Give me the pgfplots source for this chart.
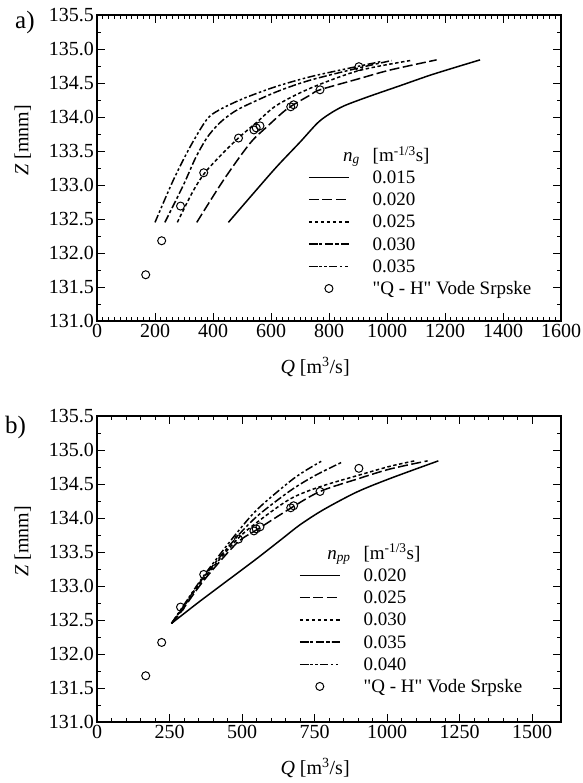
\documentclass[border=0pt]{standalone}
\usepackage{fontspec}
\setmainfont{Liberation Serif}
\newfontfamily\plainserif{Liberation Serif}
\usepackage{pgfplots}
\pgfplotsset{compat=1.18}

\newcommand{\fs}{\fontsize{20}{24}\selectfont}
\newcommand{\lfs}{\fontsize{19}{23}\selectfont}

\tikzset{
	ldash/.style={dash pattern=on 10pt off 3.5pt},
	ldot/.style={dash pattern=on 3.5pt off 2.5pt},
	ldashdot/.style={dash pattern=on 8pt off 2.5pt on 3pt off 2.5pt},
	ldashdotdot/.style={dash pattern=on 8pt off 2.5pt on 2.5pt off 2.5pt on 2.5pt off 2.5pt},
}
\pgfplotsset{
	/pgf/number format/assume math mode=true,
	panel/.style={
		scale only axis, width=464pt, height=306pt,
		anchor=south west,
		xmin=0, xmax=1600, ymin=131, ymax=135.5,
		ytick distance=0.5, minor y tick num=1,
		tick align=inside,
		major tick length=8pt, minor tick length=4pt,
		axis line style={line width=1.2pt},
		every tick/.style={black, line width=0.8pt},
		yticklabel style={font=\fs, inner xsep=3pt, /pgf/number format/.cd, fixed, fixed zerofill, precision=1},
		xticklabel style={font=\fs, /pgf/number format/.cd, 1000 sep={}},
		xlabel={\textit{Q} [m\textsuperscript{3}/s]},
		ylabel={\textit{Z} [mnm]},
		xlabel style={font=\fs, at={(axis description cs:0.47,-0.15)}, anchor=center},
		ylabel style={font=\fs, at={(axis description cs:-0.16,0.59)}, anchor=center},
		legend cell align=left,
		legend image code/.code={\draw[mark repeat=2,mark phase=2,##1] plot coordinates {(0pt,0pt) (20pt,0pt) (40pt,0pt)};},
		legend style={anchor=north west, draw=none, fill=none, inner sep=0pt,
			row sep=8.2pt, column sep=13pt,
			nodes={inner sep=0pt, text height=13pt, text depth=1pt, font=\lfs}},
	},
	crv/.style={black, line width=1.5pt, smooth, tension=0.5},
	obs/.style={black, only marks, mark=o, mark size=4pt, mark options={solid, line width=1pt}},
}

\begin{document}
\begin{tikzpicture}
\path[use as bounding box] (0,0) rectangle (582pt,783pt);

\node[anchor=west, inner sep=0pt, font=\fontsize{25}{30}\selectfont] at (15pt,760pt) {a)};
\node[anchor=west, inner sep=0pt, font=\fontsize{25}{30}\selectfont] at (5pt,356pt) {b)};

% panel a
\begin{axis}[panel, at={(97pt,462pt)},
	xtick={0,200,...,1600}, minor x tick num=9,
	legend style={at={(0.4547,0.565)}}]
\addlegendimage{legend image code/.code={\node[anchor=east] at (51pt,0pt) {\textit{n}\textsubscript{\textit{g}}};}}
\addlegendentry{[m\textsuperscript{-1/3}s]}
\addplot[crv] coordinates {
(453,132.45) (540,132.88) (620,133.27) (700,133.63) (760,133.91) (800,134.04)
(850,134.16) (930,134.29) (1045,134.46) (1160,134.63) (1321,134.84)};
\addlegendentry{0.015}
\addplot[crv, ldash] coordinates {
(344,132.45) (436,133.07) (527,133.61) (587,133.86) (656,134.12) (734,134.32)
(769,134.40) (901,134.56) (1010,134.69) (1171,134.84)};
\addlegendentry{0.020}
\addplot[crv, ldot] coordinates {
(277,132.45) (330,132.90) (372,133.18) (430,133.45) (490,133.70) (553,133.93)
(619,134.17) (734,134.42) (901,134.68) (1080,134.83)};
\addlegendentry{0.025}
\addplot[crv, ldashdot] coordinates {
(234,132.45) (298,133.00) (340,133.40) (380,133.70) (420,133.90) (460,134.04)
(504,134.15) (619,134.37) (734,134.54) (901,134.72) (1016,134.83)};
\addlegendentry{0.030}
\addplot[crv, ldashdotdot] coordinates {
(200,132.45) (263,133.07) (321,133.56) (378,133.96) (420,134.10) (504,134.27)
(619,134.45) (734,134.59) (850,134.70) (985,134.82)};
\addlegendentry{0.035}
\addplot[obs] coordinates {
(168,131.68) (223,132.18) (288,132.69) (368,133.18) (488,133.69) (541,133.81)
(549,133.84) (562,133.87) (668,134.15) (678,134.18) (769,134.40) (903,134.74)};
\addlegendentry{{\plainserif "Q - H" Vode Srpske}}
\end{axis}

% panel b
\begin{axis}[panel, at={(97pt,61pt)},
	xtick={0,250,...,1500}, minor x tick num=4,
	legend style={at={(0.435,0.575)}}]
\addlegendimage{legend image code/.code={\node[anchor=east] at (51pt,0pt) {\textit{n}\textsubscript{\textit{pp}}};}}
\addlegendentry{[m\textsuperscript{-1/3}s]}
\addplot[crv] coordinates {
(257,132.45) (350,132.76) (450,133.08) (550,133.40) (640,133.70) (700,133.90)
(780,134.12) (895,134.38) (1010,134.58) (1177,134.84)};
\addlegendentry{0.020}
\addplot[crv, ldash] coordinates {
(257,132.45) (290,132.62) (368,133.08) (482,133.63) (556,133.84) (670,134.15)
(769,134.39) (895,134.57) (1010,134.72) (1140,134.84)};
\addlegendentry{0.025}
\addplot[crv, ldot] coordinates {
(257,132.45) (290,132.64) (368,133.11) (482,133.68) (556,133.95) (666,134.28)
(769,134.46) (903,134.63) (1010,134.76) (1095,134.84)};
\addlegendentry{0.030}
\addplot[crv, ldashdot] coordinates {
(257,132.45) (290,132.65) (368,133.13) (482,133.72) (556,134.04) (666,134.40)
(750,134.62) (849,134.83)};
\addlegendentry{0.035}
\addplot[crv, ldashdotdot] coordinates {
(257,132.45) (290,132.66) (368,133.15) (482,133.78) (556,134.14) (666,134.54)
(720,134.70) (780,134.85)};
\addlegendentry{0.040}
\addplot[obs] coordinates {
(168,131.68) (223,132.17) (288,132.69) (368,133.17) (488,133.69) (541,133.81)
(549,133.84) (562,133.87) (668,134.15) (678,134.18) (769,134.39) (903,134.73)};
\addlegendentry{{\plainserif "Q - H" Vode Srpske}}
\end{axis}
\end{tikzpicture}
\end{document}
